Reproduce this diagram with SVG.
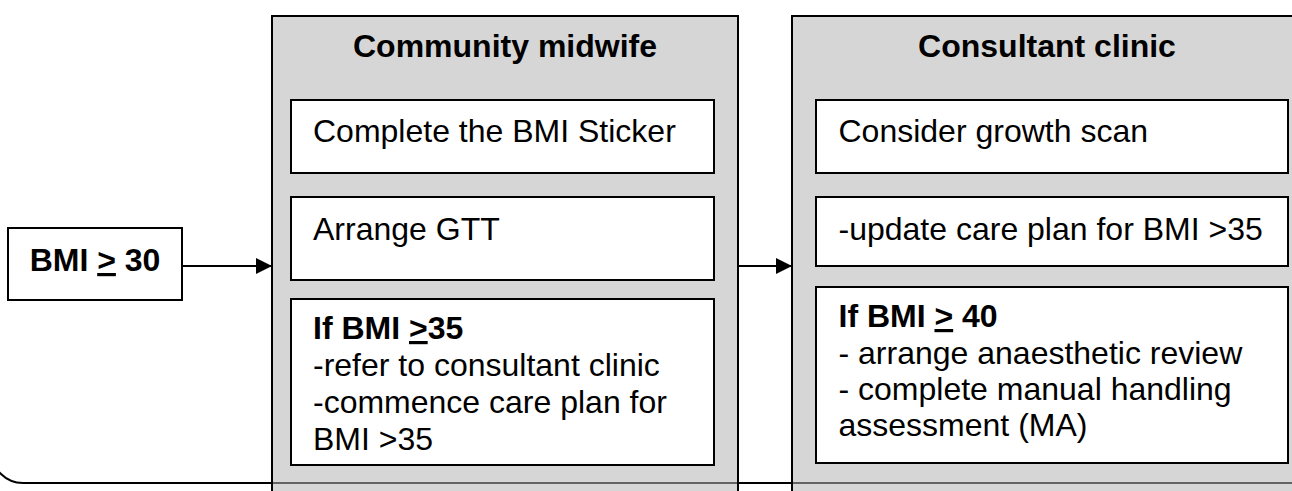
<svg xmlns="http://www.w3.org/2000/svg" width="1292" height="491" viewBox="0 0 1292 491">
  <style>
    .container { fill: #b4b4b4; fill-opacity: 0.55; stroke: #000; stroke-width: 2; }
    .box { fill: #fff; stroke: #000; stroke-width: 2; }
    .title { font-family: "Liberation Sans", Arial, sans-serif; font-size: 32px; font-weight: bold; fill: #000; text-anchor: middle; }
    .txt { font-family: "Liberation Sans", Arial, sans-serif; font-size: 32px; fill: #000; }
    .b { font-weight: bold; }
    .conn { fill: none; stroke: #000; stroke-width: 2; }
  </style>
  <defs>
    <marker id="arrow" markerUnits="userSpaceOnUse" markerWidth="16" markerHeight="16" refX="16" refY="8" orient="auto">
      <path d="M0,0 L16,8 L0,16 z" fill="#000"/>
    </marker>
  </defs>
  <rect width="1292" height="491" fill="#fff"/>

  <g id="connectors">
    <path class="conn" d="M -8.5 380 L -8.5 451.5 A 31.5 31.5 0 0 0 23 483 L 1300 483"/>
    <line class="conn" x1="182" y1="266" x2="272" y2="266" marker-end="url(#arrow)"/>
    <line class="conn" x1="738" y1="266" x2="792" y2="266" marker-end="url(#arrow)"/>
  </g>

  <g id="bmi30">
    <rect class="box" x="8" y="228" width="174" height="72"/>
    <text class="txt b" x="95" y="271" text-anchor="middle">BMI <tspan text-decoration="underline">&gt;</tspan> 30</text>
  </g>

  <g id="community-midwife">
    <rect class="container" x="272" y="16" width="466" height="490"/>
    <text class="title" x="505" y="57">Community midwife</text>
  </g>
  <g id="cm-sticker">
    <rect class="box" x="291" y="100" width="423" height="73"/>
    <text class="txt" x="313" y="142">Complete the BMI Sticker</text>
  </g>
  <g id="cm-gtt">
    <rect class="box" x="291" y="197" width="423" height="83"/>
    <text class="txt" x="313" y="240">Arrange GTT</text>
  </g>
  <g id="cm-bmi35">
    <rect class="box" x="291" y="299" width="423" height="166"/>
    <text class="txt" x="313" y="339"><tspan class="b">If BMI <tspan text-decoration="underline">&gt;</tspan>35</tspan></text>
    <text class="txt" x="313" y="376">-refer to consultant clinic</text>
    <text class="txt" x="313" y="413">-commence care plan for</text>
    <text class="txt" x="313" y="450">BMI &gt;35</text>
  </g>

  <g id="consultant-clinic">
    <rect class="container" x="792" y="16" width="520" height="490"/>
    <text class="title" x="1047" y="57">Consultant clinic</text>
  </g>
  <g id="cc-growth">
    <rect class="box" x="816" y="100" width="472" height="73"/>
    <text class="txt" x="838.5" y="142">Consider growth scan</text>
  </g>
  <g id="cc-careplan">
    <rect class="box" x="816" y="197" width="472" height="69"/>
    <text class="txt" x="838.5" y="240">-update care plan for BMI &gt;35</text>
  </g>
  <g id="cc-bmi40">
    <rect class="box" x="816" y="287" width="472" height="176"/>
    <text class="txt" x="838.5" y="327"><tspan class="b">If BMI <tspan text-decoration="underline">&gt;</tspan> 40</tspan></text>
    <text class="txt" x="838.5" y="364">- arrange anaesthetic review</text>
    <text class="txt" x="838.5" y="400">- complete manual handling</text>
    <text class="txt" x="838.5" y="436">assessment (MA)</text>
  </g>
</svg>
